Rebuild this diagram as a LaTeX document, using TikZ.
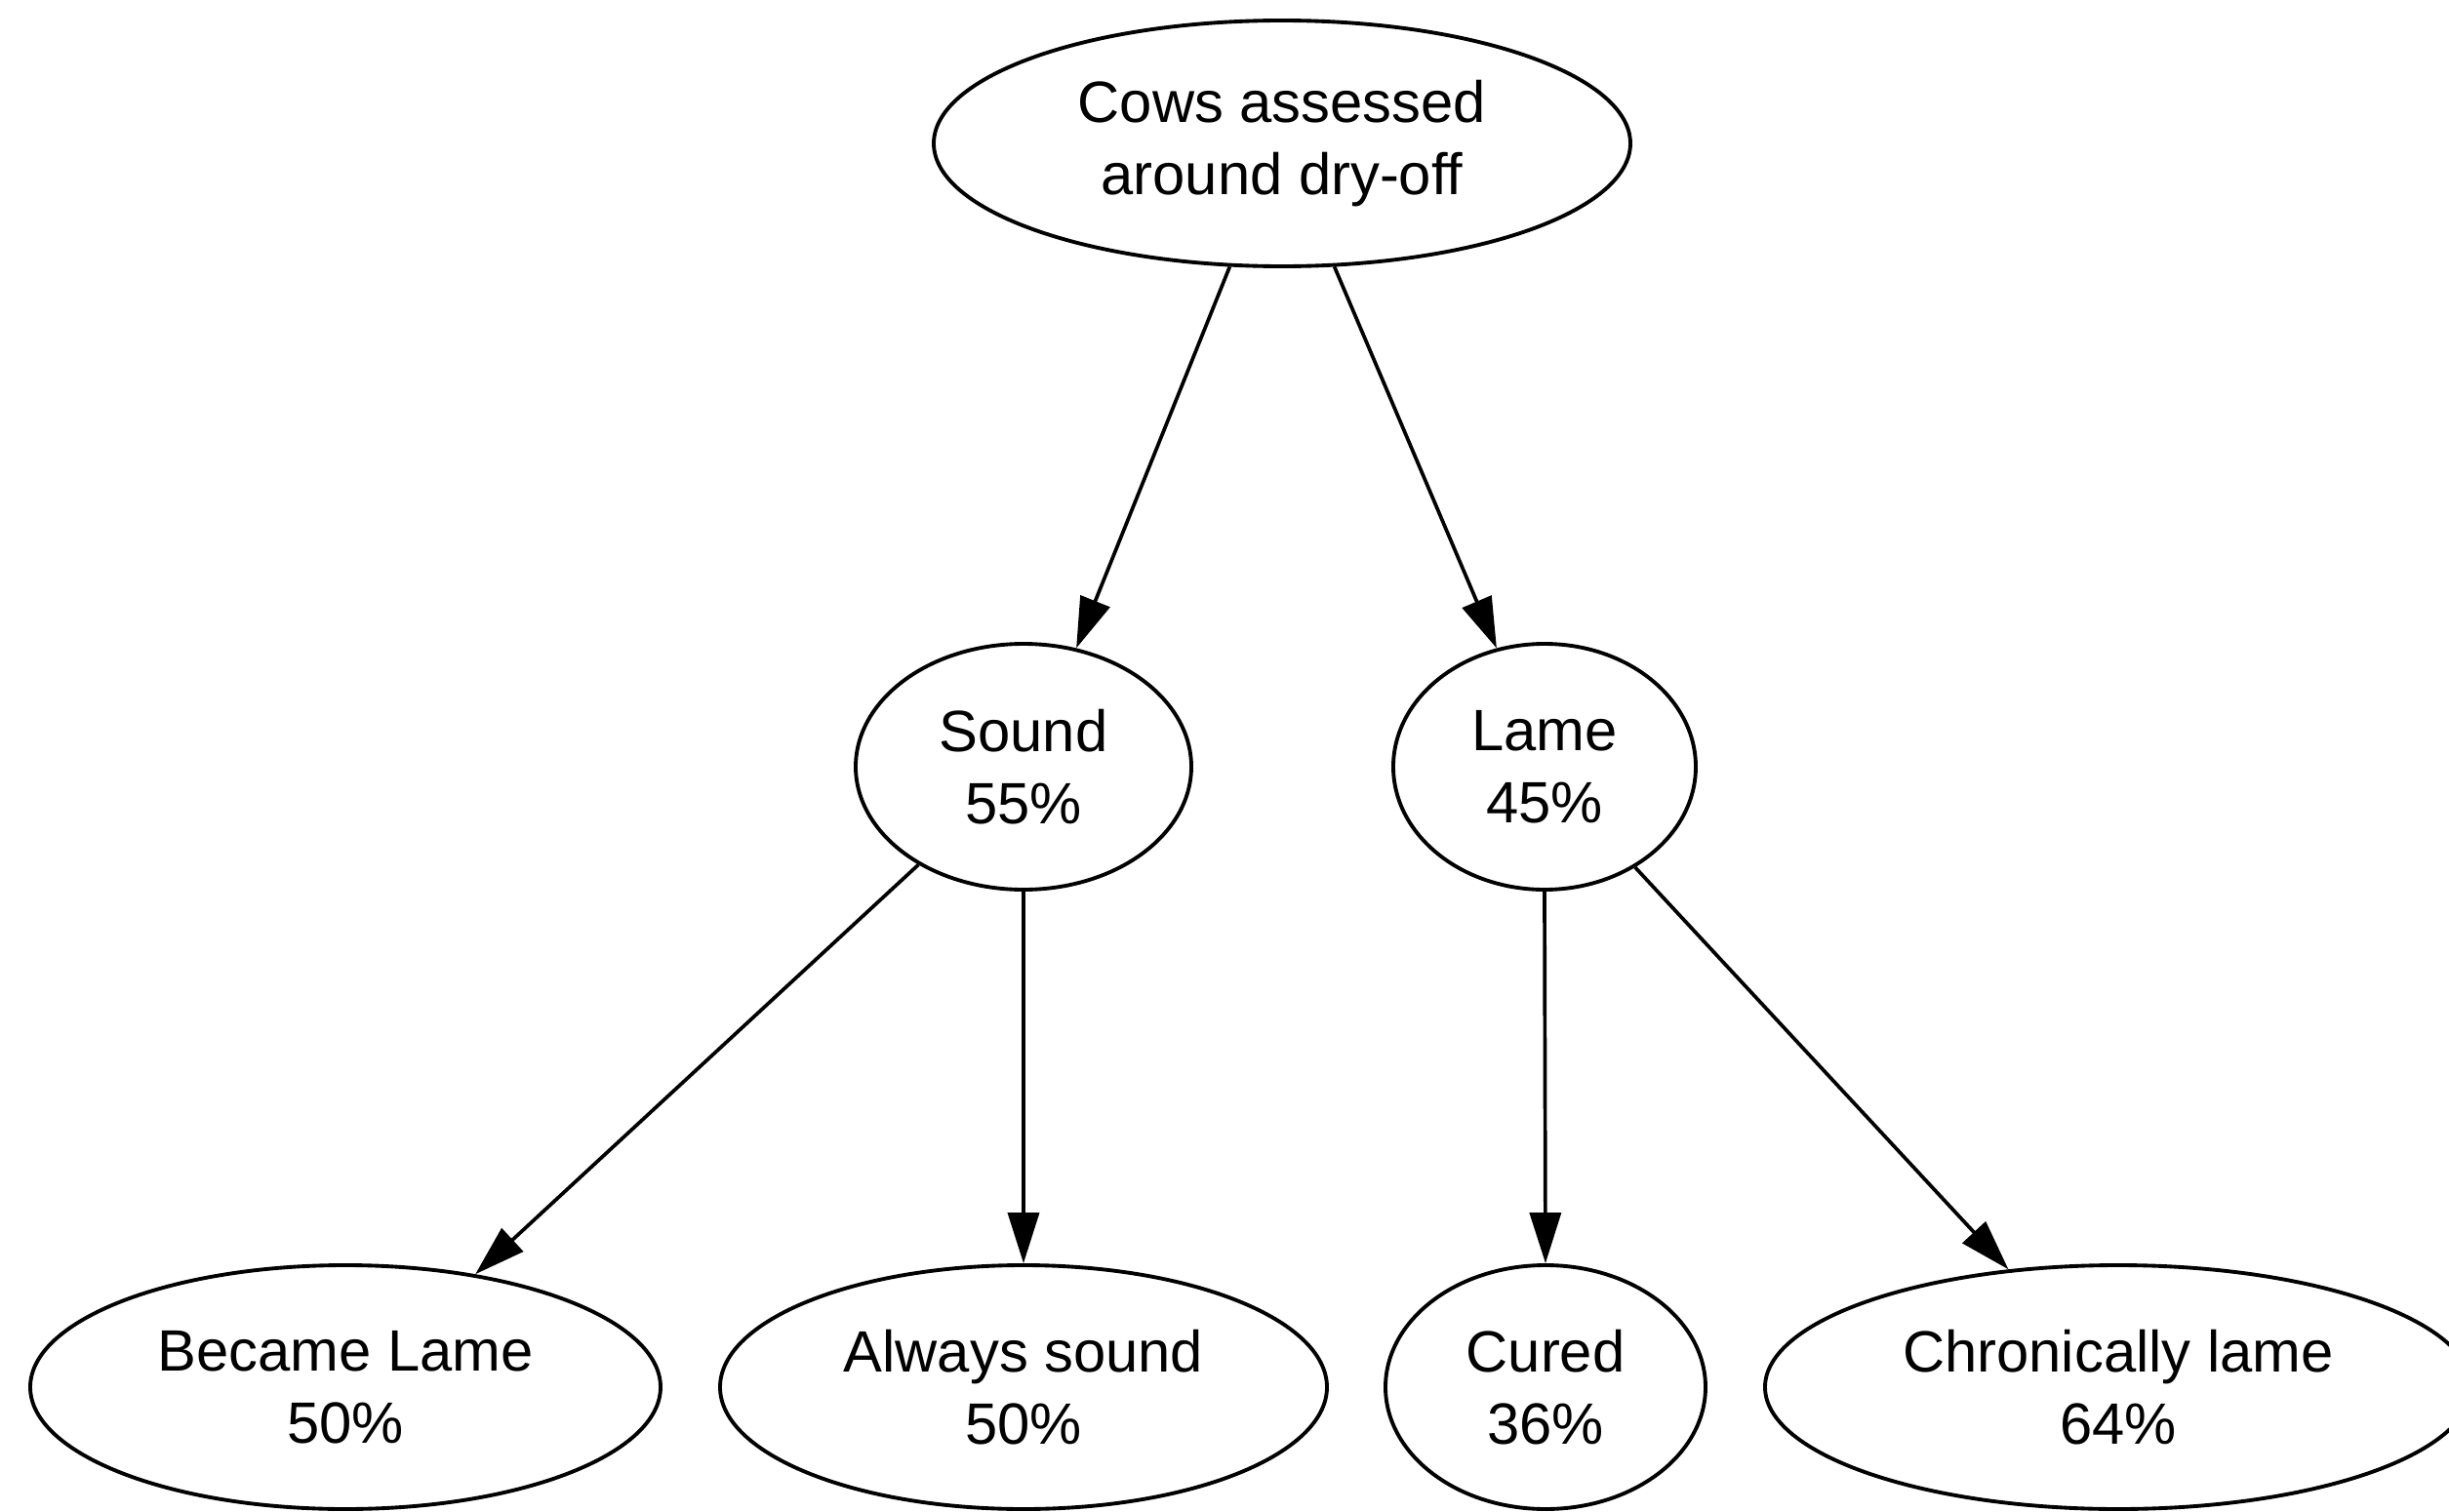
\documentclass[tikz,border=0pt]{standalone}
\usepackage{fontspec}
\setmainfont{Liberation Sans}
\usetikzlibrary{shapes.geometric,arrows.meta}

\tikzset{
    state/.style={draw, ellipse, line width=1.1pt, inner sep=0pt,
        align=center, font={\fontsize{17}{21}\selectfont}},
    flow/.style={line width=1.05pt, -{Triangle[length=5.2mm,width=3.2mm]}}
}

\begin{document}
\begin{tikzpicture}
        \useasboundingbox (0,0) rectangle (25.1,-15.5);

        % Ausgangslage
        \node[state, minimum width=7.14cm, minimum height=2.52cm] (cows) at (13.14,-1.47) {Cows assessed\\around dry-off};

        % Stufe 1
        \node[state, minimum width=3.44cm, minimum height=2.52cm] (sound) at (10.49,-7.86) {Sound\\55\%};
        \node[state, minimum width=3.10cm, minimum height=2.52cm] (lame) at (15.83,-7.86) {Lame\\45\%};

        % Stufe 2
        \node[state, minimum width=6.46cm, minimum height=2.50cm] (became) at (3.54,-14.22) {Became Lame\\50\%};
        \node[state, minimum width=6.22cm, minimum height=2.50cm] (always) at (10.49,-14.22) {Always sound\\50\%};
        \node[state, minimum width=3.28cm, minimum height=2.50cm] (cured) at (15.84,-14.22) {Cured\\36\%};
        \node[state, minimum width=7.24cm, minimum height=2.50cm] (chronic) at (21.71,-14.22) {Chronically lame\\64\%};

        % Pfeile
        \draw[flow] (cows.247.5) -- (sound.66.9);
        \draw[flow] (cows.293.3) -- (lame.112.5);
        \draw[flow] (sound.223.7) -- (became.41.9);
        \draw[flow] (sound.south) -- (always.north);
        \draw[flow] (lame.south) -- (cured.north);
        \draw[flow] (lame.312.4) -- (chronic.133);

    \end{tikzpicture}
\end{document}
